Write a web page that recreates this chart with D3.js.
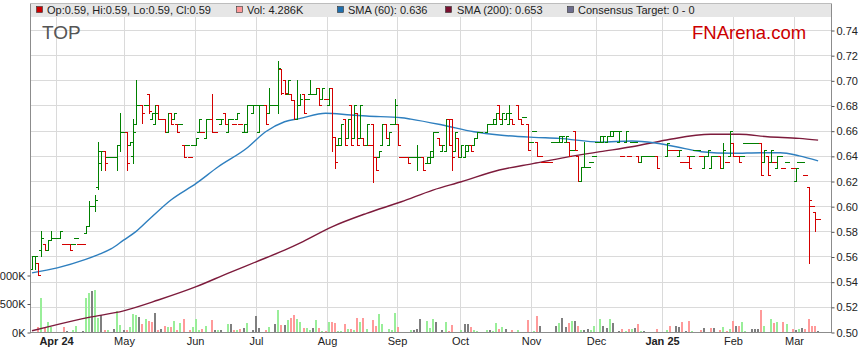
<!DOCTYPE html>
<html><head><meta charset="utf-8">
<script src="https://cdn.jsdelivr.net/npm/d3@7"></script>
<style>
html,body{margin:0;padding:0;background:#fff;}
svg{display:block;font-family:Arial,"Liberation Sans",sans-serif;}
</style></head><body>
<svg id="chart" width="859" height="363"></svg>
<script>
// ---------- DATA (one entry per trading day, index 0 = late Mar 2024) ----------
const openP = [
.55,.56,.555,.565,.57,.565,.573,.575,.575,.575,
.57,.57,.57,.57,.575,.57,.57,.579,.584,.60,
.60,.615,.634,.644,.639,.639,.639,.639,.649,.659,
.659,.649,.64,.665,.68,.68,.68,.689,.669,.665,
.68,.669,.669,.659,.674,.669,.665,.665,.649,.649,
.639,.649,.649,.659,.659,.654,.669,.669,.659,.669,
.665,.674,.659,.669,.665,.669,.665,.659,.659,.68,
.674,.68,.659,.68,.68,.674,.68,.68,.68,.709,
.70,.689,.689,.684,.669,.68,.689,.685,.689,.689,
.689,.694,.685,.685,.68,.694,.655,.649,.649,.669,
.654,.68,.654,.674,.654,.654,.649,.649,.665,.639,
.639,.649,.665,.649,.665,.665,.665,.639,.639,.639,
.639,.639,.639,.639,.639,.634,.634,.639,.659,.654,
.644,.644,.669,.669,.644,.654,.639,.639,.644,.649,
.649,.654,.659,null,.659,.665,.665,.665,.68,.665,
.669,.665,.669,null,.68,.669,.671,.665,.651,.66,
.651,.64,.635,.635,.635,.651,.651,.651,.651,.651,
.651,.645,.66,.64,.62,.631,.631,.635,.64,.651,
.651,.651,.651,.656,.656,.66,.651,.64,.651,.64,
.651,.651,.64,.635,.64,.64,.64,.64,.64,null,
null,.64,.645,.645,.645,.64,.635,.635,.64,.64,
.645,.645,.64,.63,.64,.63,.64,.64,.64,.63,
.635,.64,.65,.64,.64,.64,.65,.65,.65,.65,
.65,.65,.635,.64,.635,.635,.63,.64,.63,.635,
null,.63,.62,.635,.635,.625,.615,.60,.595,.59];
const highP = [
.56,.56,.555,.58,.57,.573,.58,.575,.575,.58,
.57,.57,.57,.57,.575,.57,.57,.584,.604,.60,
.609,.651,.644,.644,.639,.639,.639,.649,.674,.659,
.659,.651,.669,.70,.68,.68,.68,.689,.674,.68,
.68,.669,.669,.674,.674,.674,.665,.665,.649,.649,
.639,.649,.654,.669,.659,.669,.669,.689,.659,.669,
.669,.674,.669,.669,.665,.674,.665,.665,.68,.68,
.68,.68,.68,.68,.68,.694,.68,.68,.715,.709,
.70,.70,.689,.684,.70,.689,.689,.685,.70,.689,
.694,.694,.694,.685,.694,.694,.655,.654,.665,.669,
.669,.68,.68,.674,.68,.654,.665,.649,.665,.639,
.644,.665,.665,.659,.665,.685,.665,.639,.639,.639,
.639,.639,.649,.639,.639,.639,.644,.659,.659,.654,
.649,.669,.669,.669,.659,.654,.649,.649,.649,.649,
.654,.659,.659,null,.665,.665,.669,.674,.68,.674,
.674,.68,.669,null,.68,.669,.671,.665,.651,.66,
.651,.64,.635,.635,.635,.651,.651,.656,.656,.656,
.651,.645,.66,.64,.631,.651,.631,.635,.64,.651,
.656,.656,.656,.66,.66,.66,.66,.64,.66,.64,
.651,.651,.64,.64,.64,.64,.64,.64,.64,null,
null,.65,.645,.645,.645,.645,.635,.635,.64,.64,
.645,.645,.64,.64,.645,.64,.64,.64,.64,.65,
.635,.66,.65,.64,.64,.64,.65,.65,.65,.65,
.65,.65,.645,.64,.645,.635,.64,.64,.63,.635,
null,.63,.63,.635,.635,.625,.615,.60,.595,.59];
const lowP = [
.55,.55,.545,.56,.565,.565,.573,.575,.575,.575,
.57,.57,.565,.57,.575,.57,.57,.579,.584,.60,
.596,.614,.629,.629,.639,.639,.639,.629,.644,.659,
.629,.649,.634,.665,.68,.666,.68,.674,.669,.665,
.669,.669,.659,.659,.665,.669,.659,.665,.639,.649,
.639,.649,.649,.659,.659,.654,.669,.659,.659,.669,
.665,.665,.659,.669,.665,.669,.665,.659,.659,.68,
.674,.68,.659,.68,.665,.674,.68,.68,.674,.689,
.689,.689,.684,.669,.669,.68,.674,.685,.689,.689,
.689,.68,.685,.685,.68,.644,.63,.649,.649,.649,
.654,.649,.654,.649,.654,.649,.649,.649,.619,.629,
.639,.649,.654,.649,.665,.665,.649,.639,.639,.634,
.639,.639,.629,.639,.629,.634,.634,.639,.659,.649,
.644,.644,.649,.629,.644,.639,.639,.639,.644,.644,
.649,.654,.659,null,.659,.665,.665,.665,.669,.665,
.669,.665,.665,null,.669,.665,.671,.645,.651,.66,
.64,.64,.635,.635,.635,.651,.651,.651,.651,.651,
.64,.645,.645,.62,.62,.631,.631,.635,.64,.651,
.651,.651,.651,.656,.656,.66,.651,.64,.651,.64,
.651,.651,.635,.635,.64,.64,.64,.64,.63,null,
null,.64,.645,.645,.645,.64,.635,.635,.63,.64,
.645,.645,.64,.63,.64,.63,.64,.64,.63,.63,
.635,.64,.64,.64,.635,.64,.65,.65,.65,.65,
.65,.625,.635,.625,.635,.635,.63,.64,.63,.635,
null,.63,.62,.635,.635,.625,.555,.60,.58,.59];
const closeP = [
.56,.56,.545,.575,.565,.573,.575,.575,.575,.58,
.57,.57,.565,.57,.575,.57,.57,.584,.60,.60,
.605,.644,.644,.634,.639,.639,.639,.649,.659,.659,
.634,.651,.659,.68,.68,.674,.68,.676,.674,.674,
.669,.669,.659,.674,.665,.674,.659,.665,.639,.649,
.639,.649,.654,.669,.659,.669,.669,.659,.659,.669,
.669,.665,.669,.669,.665,.674,.665,.665,.68,.68,
.68,.68,.68,.68,.665,.68,.68,.68,.71,.69,
.69,.70,.684,.669,.68,.685,.674,.685,.689,.689,
.694,.68,.694,.685,.694,.655,.635,.654,.665,.649,
.669,.649,.68,.649,.68,.649,.665,.649,.639,.629,
.644,.665,.654,.659,.665,.68,.649,.639,.639,.634,
.639,.639,.639,.639,.629,.639,.644,.659,.659,.649,
.649,.669,.649,.639,.659,.639,.649,.649,.649,.644,
.654,.659,.659,null,.665,.665,.669,.674,.669,.674,
.674,.674,.665,null,.669,.665,.671,.645,.651,.66,
.64,.64,.635,.635,.635,.651,.651,.656,.656,.656,
.64,.645,.645,.62,.631,.631,.631,.635,.64,.651,
.656,.656,.656,.66,.66,.66,.66,.64,.66,.64,
.651,.651,.635,.64,.64,.64,.64,.64,.63,null,
null,.65,.645,.645,.645,.645,.635,.635,.63,.64,
.645,.645,.64,.64,.645,.64,.64,.64,.63,.645,
.635,.66,.64,.64,.635,.64,.65,.65,.65,.65,
.65,.625,.645,.625,.645,.635,.64,.64,.63,.635,
null,.63,.63,.635,.635,.625,.605,.60,.59,.59];
// volume in thousands of shares
const volumeK = [
0,0,90,600,72,168,90,0,0,0,
90,24,0,30,114,0,24,600,690,714,
732,252,294,30,30,0,60,372,120,30,
30,90,318,294,264,132,222,198,174,330,
42,60,114,90,90,192,30,150,222,0,
42,90,222,30,60,114,0,210,30,30,
30,0,132,132,30,30,60,78,150,0,
30,276,78,0,30,90,0,132,384,120,
126,210,252,294,222,180,72,78,42,78,
204,78,24,24,180,180,150,24,24,132,
54,60,42,240,168,240,60,0,204,114,
312,132,0,60,30,336,96,0,0,0,
30,30,60,222,0,186,78,222,168,0,
30,168,24,126,0,0,30,132,132,96,
30,24,0,0,30,30,24,150,60,96,
60,0,42,0,42,0,0,204,0,24,
276,114,0,0,0,0,114,150,240,96,
150,186,186,114,42,42,54,42,114,0,
222,114,78,222,150,0,24,60,24,60,
60,78,132,24,24,0,0,0,60,0,
0,30,114,0,114,96,168,24,186,24,
0,0,42,78,0,78,78,0,42,96,
24,60,186,114,114,168,24,0,60,60,
60,384,114,0,222,150,168,0,168,132,
0,60,30,60,78,60,222,114,114,4.286];
// moving averages read at sample days
const sma60Idx = [0,8,17,21,25,29,33,38,44,52,59,68,74,80,85,93,101,106,117,120,130,140,148,159,167,180,190,197,204,212,222,231,237,243,249];
const sma60   = [.547,.551,.5577,.5615,.566,.573,.58,.5916,.6049,.6181,.6313,.646,.6591,.6671,.6698,.6738,.6724,.6716,.6703,.6692,.6645,.6591,.6565,.6547,.6539,.6509,.6518,.6504,.6472,.6433,.642,.6425,.6425,.64,.636];
const sma200Idx = [0,6,18,29,40,52,62,71,80,85,95,106,117,127,136,148,159,169,180,190,201,215,224,233,243,249];
const sma200   = [.501,.5047,.5116,.5168,.5254,.536,.5466,.5558,.5651,.5709,.5836,.5943,.6035,.6128,.6194,.6287,.634,.6388,.6433,.6472,.6526,.6571,.6571,.6552,.6539,.6525];
// axes
const monthIdx = [7.5,29,51.5,71,93.5,115.5,135.5,158,178.5,199.5,222,241.5];
const monthLabels = ["Apr 24","May","Jun","Jul","Aug","Sep","Oct","Nov","Dec","Jan 25","Feb","Mar"];
const priceTicks = [0.50,0.52,0.54,0.56,0.58,0.60,0.62,0.64,0.66,0.68,0.70,0.72,0.74];
const volTicks = [0,500,1000];
const legendLabels = ["Op:0.59, Hi:0.59, Lo:0.59, Cl:0.59","Vol: 4.286K","SMA (60): 0.636","SMA (200): 0.653","Consensus Target: 0 - 0"];
const ticker = "TOP";
const brand = "FNArena.com";

// ---------- LAYOUT ----------
const L = 30, R = 831, T = 3, BAND = 14, B = 332;
const UP = "#008000", DN = "#d40000";
const VUP = "#99ee99", VDN = "#ff9a9a", VEQ = "#7f7f7f";
const svg = d3.select("#chart");
const N = openP.length;
const x = d3.scaleLinear().domain([0, N - 1]).range([32, 818.1]);
const y = d3.scaleLinear().domain([0.50, 0.74]).range([B, 30]);
const yv = d3.scaleLinear().domain([0, 1000]).range([B, 275]);

svg.append("rect").attr("width", 859).attr("height", 363).attr("fill", "#fff");
svg.append("rect").attr("x", L).attr("y", T).attr("width", R - L).attr("height", BAND).attr("fill", "#e6e6e6");

const grid = svg.append("g").attr("stroke", "#dadada").attr("stroke-width", 1).attr("shape-rendering", "crispEdges");
priceTicks.forEach(v => {
  const yy = Math.round(y(v)) + 0.5;
  grid.append("line").attr("x1", L).attr("x2", R).attr("y1", yy).attr("y2", yy);
});
monthIdx.forEach(i => {
  const xx = Math.round(x(i)) + 0.5;
  grid.append("line").attr("x1", xx).attr("x2", xx).attr("y1", T + BAND).attr("y2", B);
});

// bars with derived colours
const bars = [];
let prevClose = null, prevCol = UP;
for (let i = 0; i < N; i++) {
  if (openP[i] == null) continue;
  const o = openP[i], h = highP[i], l = lowP[i], c = closeP[i];
  let col;
  if (c > o) col = UP; else if (c < o) col = DN;
  else if (prevClose == null || c > prevClose) col = UP;
  else if (c < prevClose) col = DN; else col = prevCol;
  const vcol = prevClose == null ? VUP : (c > prevClose ? VUP : (c < prevClose ? VDN : VEQ));
  bars.push({ i, o, h, l, c, col, vcol, v: volumeK[i] });
  prevClose = c; prevCol = col;
}

// volume
svg.append("g").attr("shape-rendering", "crispEdges").selectAll("rect")
  .data(bars.filter(d => d.v > 0)).join("rect")
  .attr("x", d => Math.round(x(d.i)) - 1).attr("width", 2)
  .attr("y", d => Math.min(B - 1, Math.round(yv(d.v))))
  .attr("height", d => B - Math.min(B - 1, Math.round(yv(d.v))))
  .attr("fill", d => d.vcol);

// SMA lines
const line = d3.line().x(d => x(d[0])).y(d => y(d[1])).curve(d3.curveMonotoneX);
svg.append("path").attr("d", line(sma200Idx.map((k, j) => [k, sma200[j]])))
  .attr("fill", "none").attr("stroke", "#7d1b3c").attr("stroke-width", 1.4);
svg.append("path").attr("d", line(sma60Idx.map((k, j) => [k, sma60[j]])))
  .attr("fill", "none").attr("stroke", "#2e7fbf").attr("stroke-width", 1.4);

// OHLC bars
const pg = svg.append("g").attr("shape-rendering", "crispEdges");
bars.forEach(d => {
  const xx = Math.round(x(d.i));
  const yh = Math.round(y(d.h)), yl = Math.round(y(d.l));
  const yo = Math.round(y(d.o)), yc = Math.round(y(d.c));
  pg.append("rect").attr("x", xx).attr("y", yh).attr("width", 1).attr("height", Math.max(1, yl - yh + 1)).attr("fill", d.col);
  pg.append("rect").attr("x", xx - 2).attr("y", yo).attr("width", 2).attr("height", 1).attr("fill", d.col);
  pg.append("rect").attr("x", xx + 1).attr("y", yc).attr("width", 2).attr("height", 1).attr("fill", d.col);
});

// frame
const fr = svg.append("g").attr("stroke", "#8c8c8c").attr("shape-rendering", "crispEdges");
fr.append("line").attr("x1", L + 0.5).attr("x2", L + 0.5).attr("y1", T).attr("y2", B + 1);
fr.append("line").attr("x1", R + 0.5).attr("x2", R + 0.5).attr("y1", T).attr("y2", B + 1);
fr.append("line").attr("x1", L).attr("x2", R + 1).attr("y1", T + 0.5).attr("y2", T + 0.5).attr("stroke", "#bdbdbd");
fr.append("line").attr("x1", L).attr("x2", R + 1).attr("y1", B + 0.5).attr("y2", B + 0.5);

// right price axis
const ra = svg.append("g").attr("transform", `translate(${R + 0.5},0.5)`)
  .call(d3.axisRight(y).tickValues(priceTicks).tickFormat(d3.format(".2f")).tickSize(3).tickPadding(2));
ra.select(".domain").remove();
ra.selectAll("line").attr("stroke", "#555");
ra.selectAll("text").attr("font-size", 11).attr("fill", "#222").attr("font-family", "Arial, 'Liberation Sans', sans-serif");

// left volume axis
const la = svg.append("g").attr("transform", `translate(${L + 0.5},0.5)`)
  .call(d3.axisLeft(yv).tickValues(volTicks).tickFormat(d => d + "K").tickSize(3).tickPadding(2));
la.select(".domain").remove();
la.selectAll("line").attr("stroke", "#555");
la.selectAll("text").attr("font-size", 11).attr("fill", "#222").attr("font-family", "Arial, 'Liberation Sans', sans-serif");

// month labels
svg.append("g").selectAll("text").data(monthIdx).join("text")
  .attr("x", d => Math.round(x(d)) + 0.5).attr("y", 344.5)
  .attr("text-anchor", "middle").attr("font-size", 11).attr("fill", "#222")
  .attr("font-weight", (d, j) => /\d/.test(monthLabels[j]) ? "bold" : "normal")
  .text((d, j) => monthLabels[j]);

// legend
const legCols = ["#cc0000", "#ff9999", "#1f6fae", "#7a1030", "#6d6d8e"];
const legSqX = [36, 236, 337, 445, 567];
const legTxX = [47, 247, 348, 457, 578];
legendLabels.forEach((t, j) => {
  svg.append("rect").attr("x", legSqX[j] + 0.5).attr("y", 6.5).attr("width", 6).attr("height", 6)
    .attr("fill", legCols[j]).attr("stroke", "#333").attr("stroke-width", 0.6);
  svg.append("text").attr("x", legTxX[j]).attr("y", 13.5).attr("font-size", 11).attr("fill", "#222").text(t);
});

svg.append("text").attr("x", 42).attr("y", 39).attr("font-size", 19).attr("fill", "#555").text(ticker);
svg.append("text").attr("x", 692).attr("y", 39).attr("font-size", 18.5).attr("fill", "#cc0000").text(brand);
</script>
</body></html>
